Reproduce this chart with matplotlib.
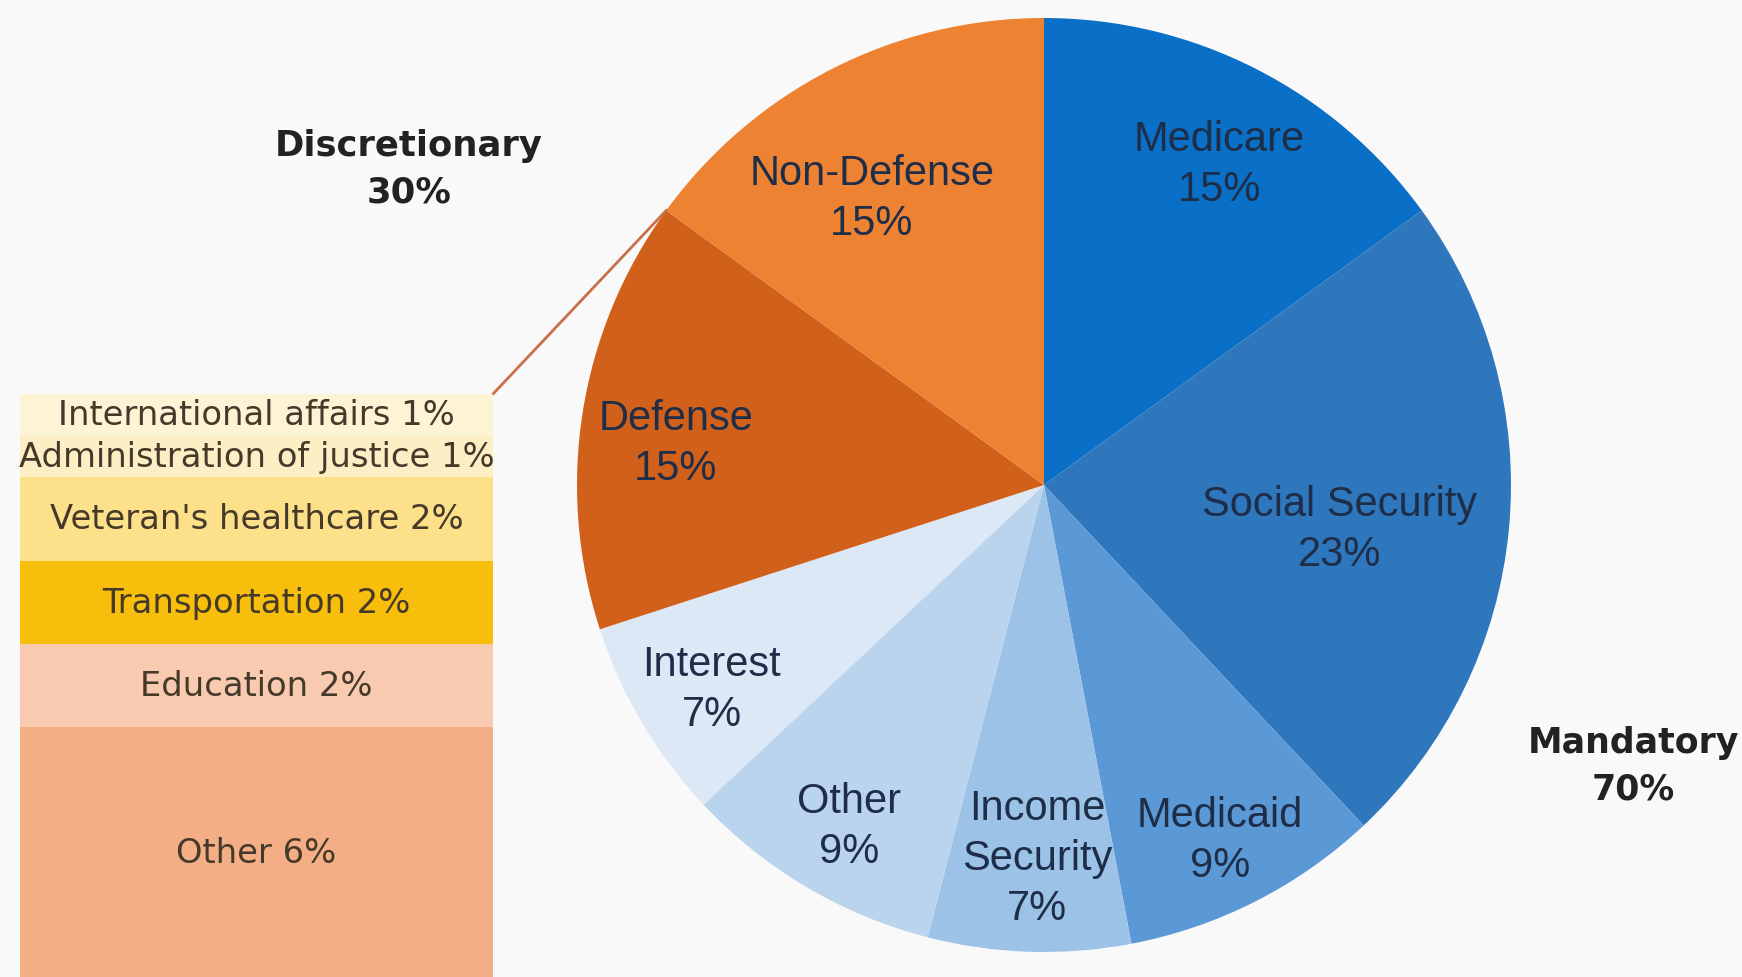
import numpy as np
import matplotlib.pyplot as plt

# federal spending shares (%)
pie_labels = ["Medicare", "Social Security", "Medicaid", "Income\nSecurity",
              "Other", "Interest", "Defense", "Non-Defense"]
pie_values = [15, 23, 9, 7, 9, 7, 15, 15]
pie_colors = ["#0a6fc6", "#2f77bd", "#5b99d6", "#9cc2e8", "#bad4ee",
              "#dce8f5", "#d0601a", "#ee8233"]
# label placement: fraction of the radius, and a nudge off the mid-angle (deg)
label_r = [0.784, 0.639, 0.848, 0.799, 0.841, 0.835, 0.794, 0.717]
label_dt = [-1.6, -3.1, -0.6, 0.7, 0.8, 1.0, 2.5, 3.9]

# breakdown of non-defense discretionary
bar_labels = ["International affairs", "Administration of justice",
              "Veteran's healthcare", "Transportation", "Education", "Other"]
bar_values = [1, 1, 2, 2, 2, 6]
bar_colors = ["#fdf4d6", "#fcefc6", "#fde18a", "#f7bf0c", "#f8cbb0", "#f4ae85"]

group_labels = ["Discretionary", "Mandatory"]
group_values = [30, 70]

W, H = 1742, 978
bg = "#f9f9f9"
fig = plt.figure(figsize=(W / 100, H / 100), dpi=100, facecolor=bg)

# main axes works in pixel units, y going up
ax = fig.add_axes([0, 0, 1, 1])
ax.set_facecolor(bg)
cx, cy, R = 1044, H - 486, 467
wedges, _ = ax.pie(pie_values, colors=pie_colors, startangle=90,
                   counterclock=False, center=(cx, cy), radius=R,
                   wedgeprops=dict(linewidth=0))
ax.set_xlim(0, W)
ax.set_ylim(0, H)
ax.set_aspect("equal")
ax.axis("off")

for w, lab, val, rf, dt in zip(wedges, pie_labels, pie_values, label_r, label_dt):
    mid = np.deg2rad((w.theta1 + w.theta2) / 2 + dt)
    ax.text(cx + rf * R * np.cos(mid), cy + rf * R * np.sin(mid),
            f"{lab}\n{val}%", ha="center", va="center", fontsize=30,
            family="Liberation Sans", color="#1f2e48", linespacing=1.32)

# group totals
ax.text(409, H - 169, f"{group_labels[0]}\n{group_values[0]}%", ha="center",
        va="center", fontsize=25.5, fontweight="bold", color="#222222",
        linespacing=1.45)
ax.text(1633, H - 766, f"{group_labels[1]}\n{group_values[1]}%", ha="center",
        va="center", fontsize=25, fontweight="bold", color="#222222",
        linespacing=1.45)

# stacked bar on the left
bar_top = 395
bx = fig.add_axes([20 / W, 0, 473 / W, 1 - bar_top / H])
bx.set_facecolor("none")
bottoms = np.concatenate([[0], np.cumsum(bar_values)[:-1]])
bx.bar(0, bar_values, bottom=bottoms, width=1, color=bar_colors, linewidth=0)
for lab, val, b in zip(bar_labels, bar_values, bottoms):
    bx.text(0, b + val / 2, f"{lab} {val}%", ha="center", va="center",
            fontsize=24.3, color="#45392a")
bx.set_xlim(-0.5, 0.5)
bx.set_ylim(sum(bar_values), 0)
bx.axis("off")

# connector from the bar to the non-defense slice
nd = wedges[-1]
edge = np.deg2rad(max(nd.theta1, nd.theta2))
ax.plot([493, cx + R * np.cos(edge)], [H - bar_top, cy + R * np.sin(edge)],
        color="#c87048", lw=2)

fig.savefig("out.png", dpi=100, facecolor=bg)
